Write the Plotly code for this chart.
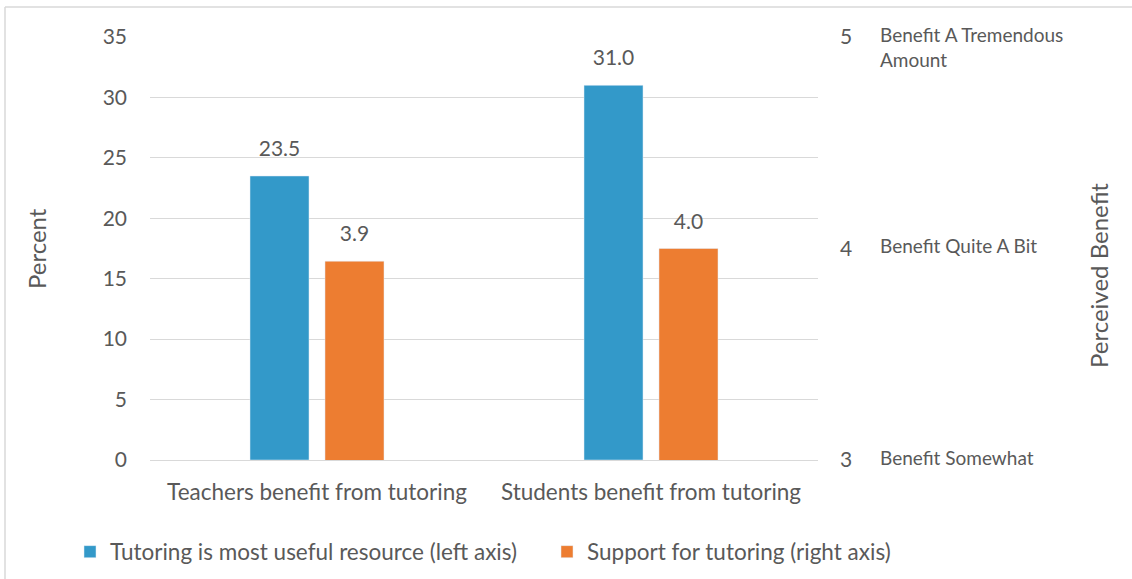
import plotly.graph_objects as go

categories = ["Teachers benefit from tutoring", "Students benefit from tutoring"]
useful_resource = [23.5, 31.0]
support_tutoring = [3.94, 4.0]
series_names = ["Tutoring is most useful resource (left axis)", "Support for tutoring (right axis)"]
left_ticks = [0, 5, 10, 15, 20, 25, 30, 35]
right_ticks = [3, 4, 5]
right_tick_desc = ["Benefit Somewhat", "Benefit Quite A Bit", "Benefit A Tremendous<br>Amount"]

BLUE = "#3399C9"
ORANGE = "#ED7D31"
GREY = "#595959"
FONT = "Lato"

fig = go.Figure()
fig.add_trace(go.Bar(x=categories, y=useful_resource, name=series_names[0],
                     marker_color=BLUE, offsetgroup="a", yaxis="y", legend="legend"))
fig.add_trace(go.Bar(x=categories, y=support_tutoring, name=series_names[1],
                     marker_color=ORANGE, offsetgroup="b", yaxis="y2", legend="legend2"))
# data labels
for vals, grp, ax in [(useful_resource, "a", "y"), (support_tutoring, "b", "y2")]:
    fig.add_trace(go.Scatter(x=categories, y=vals, mode="markers+text",
                             text=[f"{v:.1f}" for v in vals], textposition="top center",
                             marker=dict(size=22, opacity=0), offsetgroup=grp, yaxis=ax,
                             showlegend=False, hoverinfo="skip", cliponaxis=False,
                             textfont=dict(size=21, color=GREY, family=FONT)))

L, R, T, B = 150, 314, 37, 119
W, H = 1132, 579
PW, PH = W - L - R, H - T - B

def px_x(px):
    return (px - L) / PW

def px_y(py):
    return (H - B - py) / PH

annotations = []
for v, d in zip(right_ticks, right_tick_desc):
    annotations.append(dict(x=px_x(878), xref="paper", y=v, yref="y2", text=d,
                            xanchor="left", yanchor="top" if v == 5 else "middle",
                            yshift=16 if v == 5 else 3, align="left", showarrow=False,
                            font=dict(size=19, color=GREY, family=FONT)))
annotations.append(dict(x=px_x(36), xref="paper", xanchor="center", y=px_y(248), yref="paper",
                        yanchor="middle", text="Percent", textangle=-90, showarrow=False,
                        font=dict(size=24, color=GREY, family=FONT)))
annotations.append(dict(x=px_x(1098), xref="paper", xanchor="center", y=px_y(276), yref="paper",
                        yanchor="middle", text="Perceived Benefit", textangle=-90, showarrow=False,
                        font=dict(size=24, color=GREY, family=FONT)))

legend_common = dict(orientation="h", xref="container", yref="container",
                     xanchor="left", y=(H - 552) / H, yanchor="middle",
                     font=dict(size=22.5, color=GREY, family=FONT), itemwidth=30,
                     bgcolor="rgba(0,0,0,0)")

fig.update_layout(
    width=W, height=H,
    margin=dict(l=L, r=R, t=T, b=B, autoexpand=False),
    paper_bgcolor="white", plot_bgcolor="white",
    barmode="group", bargap=0.551, bargroupgap=0.213, scattermode="group",
    font=dict(family=FONT, color=GREY, size=20),
    xaxis=dict(showline=True, linecolor="#D9D9D9", ticks="", ticklabelstandoff=12,
               tickfont=dict(size=22.5, color=GREY)),
    yaxis=dict(range=[0, 35], tickvals=left_ticks, showgrid=True, gridcolor="#D9D9D9",
               zeroline=False, ticklabelstandoff=22, tickfont=dict(size=21, color=GREY)),
    yaxis2=dict(range=[3, 5], tickvals=right_ticks, overlaying="y", side="right",
                showgrid=False, zeroline=False, ticklabelstandoff=21,
                tickfont=dict(size=21, color=GREY)),
    legend=dict(x=70 / W, **legend_common),
    legend2=dict(x=547 / W, **legend_common),
    annotations=annotations,
    shapes=[
        dict(type="line", xref="paper", yref="paper", x0=px_x(5), x1=px_x(1140),
             y0=px_y(7), y1=px_y(7), line=dict(color="#D9D9D9", width=1.5)),
        dict(type="line", xref="paper", yref="paper", x0=px_x(5), x1=px_x(5),
             y0=px_y(7), y1=px_y(590), line=dict(color="#D9D9D9", width=1.5)),
    ],
    showlegend=True,
)

fig.write_html("out.html")
